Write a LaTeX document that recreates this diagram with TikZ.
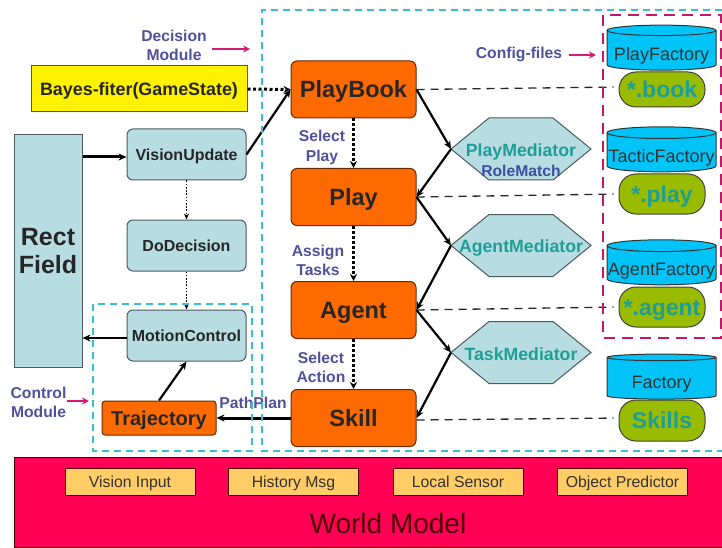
\documentclass[tikz,border=0pt]{standalone}
\usepackage{fontspec}
\setmainfont{Liberation Sans}
\usetikzlibrary{arrows.meta,shapes.geometric}
\definecolor{hexfill}{HTML}{B7DDE3}
\definecolor{orangefill}{HTML}{FF6A00}
\definecolor{cylfill}{HTML}{00C4F8}
\definecolor{pillfill}{HTML}{99BB00}
\definecolor{worldfill}{HTML}{FF0055}
\definecolor{smallfill}{HTML}{FFCC66}
\definecolor{tealtext}{HTML}{1F9E96}
\definecolor{bluetext}{HTML}{3F4FA0}
\definecolor{labeltext}{HTML}{50509B}
\definecolor{magentaline}{HTML}{D81B72}
\definecolor{cyanline}{HTML}{3DBCD0}
\definecolor{edgegray}{HTML}{4A5A5E}
\newcommand{\fs}[1]{\fontsize{#1}{#1}\selectfont}
\newcommand{\hexoutline}[1]{\draw[hexshape] (#1.west) -- ([xshift=38pt]#1.north west) -- ([xshift=-38pt]#1.north east) -- (#1.east) -- ([xshift=-38pt]#1.south east) -- ([xshift=38pt]#1.south west) -- cycle;}
\tikzset{
 lightbox/.style={draw=edgegray,line width=1pt,fill=hexfill,rounded corners=6pt,minimum width=119pt,minimum height=51pt,inner sep=0pt,align=center,font=\fs{16}\bfseries,text=black!85,text height=11.5pt,text depth=0pt},
 orangebox/.style={draw=black!60!orangefill,line width=1pt,fill=orangefill,rounded corners=6pt,minimum width=125pt,minimum height=57pt,inner sep=0pt,font=\fs{23.5}\bfseries,text=black!85,text height=17pt,text depth=0pt},
 hexframe/.style={minimum width=140pt,minimum height=62pt,inner sep=0pt,outer sep=0pt},
 hexshape/.style={draw=edgegray,line width=1pt,fill=hexfill},
 hextext/.style={inner sep=0pt,font=\fs{17.7}\bfseries,text=tealtext,text height=12.8pt,text depth=0pt},
 cyl/.style={cylinder,shape border rotate=90,aspect=0.11,draw=black!80,line width=1pt,cylinder uses custom fill,cylinder body fill=cylfill,cylinder end fill=cylfill,minimum width=109pt,minimum height=45pt,inner sep=0pt,font=\fs{18},text=black!80,text height=20pt,text depth=0pt},
 pill/.style={draw=black!75,line width=1pt,fill=pillfill,rounded corners=17pt,minimum width=86pt,inner sep=0pt,font=\fs{23}\bfseries,text=tealtext,text height=16.5pt,text depth=0pt},
 smallbox/.style={draw=black!70!red,line width=.8pt,fill=smallfill,minimum width=130pt,minimum height=27pt,inner sep=0pt,font=\fs{15.8},text=black!80,text height=11.4pt,text depth=0pt},
 note/.style={align=center,inner sep=0pt,font=\fs{15.7}\bfseries,text=labeltext},
 solidarrow/.style={-{Stealth[length=8pt,width=7pt]},line width=2.2pt,black},
 dotarrow/.style={-{Stealth[length=7pt,width=7pt]},line width=2.6pt,dash pattern=on 2.6pt off 2.4pt,black},
 thindot/.style={-{Stealth[length=6pt,width=5pt]},line width=1.6pt,dash pattern=on 1.6pt off 1.6pt,black},
 pinkarrow/.style={-{Stealth[length=7pt,width=7pt]},line width=2pt,magentaline},
 filelink/.style={line width=1.3pt,dash pattern=on 8pt off 6pt,black!85,shorten >=5pt},
 cyanframe/.style={line width=1.6pt,dash pattern=on 7pt off 5pt,cyanline},
 pinkframe/.style={line width=2.2pt,dash pattern=on 11pt off 7pt,magentaline!90!black},
}
\begin{document}
\begin{tikzpicture}[x=1pt,y=-1pt]
\useasboundingbox (0,0) rectangle (722,548);
% world model
\node[draw=black!70!red,line width=1pt,fill=worldfill,minimum width=708pt,minimum height=90pt,inner sep=0pt] (world) at (368,502) {};
\node[font=\fs{28},text=black!70!red,inner sep=0pt,text height=20pt,text depth=0pt] (worldtext) at (388,523) {World Model};
\node[smallbox] (vi) at (130,481.5) {Vision Input};
\node[smallbox] (hm) at (293.5,481.5) {History Msg};
\node[smallbox] (ls) at (458,481.5) {Local Sensor};
\node[smallbox] (op) at (622.5,481.5) {Object Predictor};
% left column
\node[draw=edgegray,line width=1pt,fill=hexfill,minimum width=68pt,minimum height=232pt,inner sep=0pt,align=center,font=\fs{25}\bfseries,text=black!85] (rect) at (48,251) {Rect\\[3pt]Field};
\node[draw=edgegray,line width=1pt,fill=yellow,minimum width=216pt,minimum height=46pt,inner sep=0pt,font=\fs{17.9}\bfseries,text=black!85,text height=12.9pt,text depth=0pt] (bayes) at (139,89) {Bayes-fiter(GameState)};
\node[lightbox] (vu) at (186.5,154.5) {VisionUpdate};
\node[lightbox] (dd) at (186.5,245.5) {DoDecision};
\node[lightbox] (mc) at (186.5,335.5) {MotionControl};
\node[orangebox,minimum width=114pt,minimum height=34pt,rounded corners=3pt,font=\fs{20}\bfseries,text height=14.4pt] (traj) at (159,418) {Trajectory};
% centre column
\node[orangebox] (pb) at (353.5,89.5) {PlayBook};
\node[orangebox] (play) at (353.5,197) {Play};
\node[orangebox] (agent) at (353.5,310) {Agent};
\node[orangebox] (skill) at (353.5,418) {Skill};
% mediators
\node[hexframe] (pm) at (521,149) {};
\node[hexframe] (am) at (521,245.5) {};
\node[hexframe] (tm) at (521,352.5) {};
\hexoutline{pm}
\hexoutline{am}
\hexoutline{tm}
\node[hextext] (pmt) at (521,150) {PlayMediator};
\node[hextext] (amt) at (521,246) {AgentMediator};
\node[hextext] (tmt) at (521,354) {TaskMediator};
\node[inner sep=0pt,font=\fs{15.7}\bfseries,text=bluetext] (rm) at (521,171) {RoleMatch};
% files
\node[pill,minimum height=35pt] (book) at (662,89.5) {*.book};
\node[pill,minimum height=40pt] (pf) at (662,194) {*.play};
\node[pill,minimum height=40pt] (af) at (662,307) {*.agent};
\node[pill,minimum height=41pt] (sk) at (662,420.5) {Skills};
\node[cyl] (c1) at (661.5,50.5) {PlayFactory};
\node[cyl] (c2) at (661.5,152.5) {TacticFactory};
\node[cyl] (c3) at (661.5,265.5) {AgentFactory};
\node[cyl] (c4) at (661.5,378.5) {Factory};
% notes
\node[note] (n1) at (174,45) {Decision\\[3.5pt]Module};
\node[note] (n2) at (519,54) {Config-files};
\node[note] (n3) at (38.5,402) {Control\\[3.5pt]Module};
\node[note] (n4) at (322,147.5) {Select\\[3.5pt]Play};
\node[note] (n5) at (318,260.5) {Assign\\[3.5pt]Tasks};
\node[note] (n6) at (321,367.5) {Select\\[3.5pt]Action};
\node[note] (n7) at (253,403) {PathPlan};
% notes' arrows
\coordinate (a1) at (250,49);
\coordinate (a2) at (596,55);
\coordinate (a3) at (89,401);
\draw[pinkarrow] (212,49) -- (a1);
\draw[pinkarrow] (569,55) -- (a2);
\draw[pinkarrow] (67,401) -- (a3);
% connectors
\path (vu.west) ++(0,2.5) coordinate (vuin);
\path (mc.west) ++(0,2.5) coordinate (mcout);
\path (book.west) ++(0,-2.5) coordinate (bookin);
\path (sk.west) ++(0,-2.5) coordinate (skin);
\path (skill.east) ++(0,2) coordinate (skout);
\draw[solidarrow,line width=3pt] (rect.east|-vuin) -- (vuin);
\draw[solidarrow] (mcout) -- (rect.east|-mcout);
\draw[thindot] (vu.south) -- (dd.north);
\draw[thindot] (dd.south) -- (mc.north);
\draw[solidarrow] (traj.north) -- (mc.south);
\draw[solidarrow] (vu.east) -- (pb.west);
\draw[dotarrow,line width=3pt,dash pattern=on 3pt off 2.5pt] (bayes.east) -- (pb.west);
\draw[dotarrow] (pb.south) -- (play.north);
\draw[dotarrow] (play.south) -- (agent.north);
\draw[dotarrow] (agent.south) -- (skill.north);
\draw[solidarrow,line width=3pt] (skill.west) -- (traj.east);
\draw[solidarrow] (pb.east) -- (pm.west);
\draw[solidarrow] (pm.west) -- (play.east);
\draw[solidarrow] (play.east) -- (am.west);
\draw[solidarrow] (am.west) -- (agent.east);
\draw[solidarrow] (agent.east) -- (tm.west);
\draw[solidarrow] (tm.west) -- (skill.east);
\draw[filelink] (pb.east) -- (bookin);
\draw[filelink] (play.east) -- (pf.west);
\draw[filelink] (agent.east) -- (af.west);
\draw[filelink] (skout) -- (skin);
% module frames
\draw[cyanframe] (722,10) -- (262,10) -- (262,451) -- (722,451);
\draw[cyanframe] (93,304) rectangle (252,451);
\draw[pinkframe] (603,15) rectangle (721,338);
\end{tikzpicture}
\end{document}
